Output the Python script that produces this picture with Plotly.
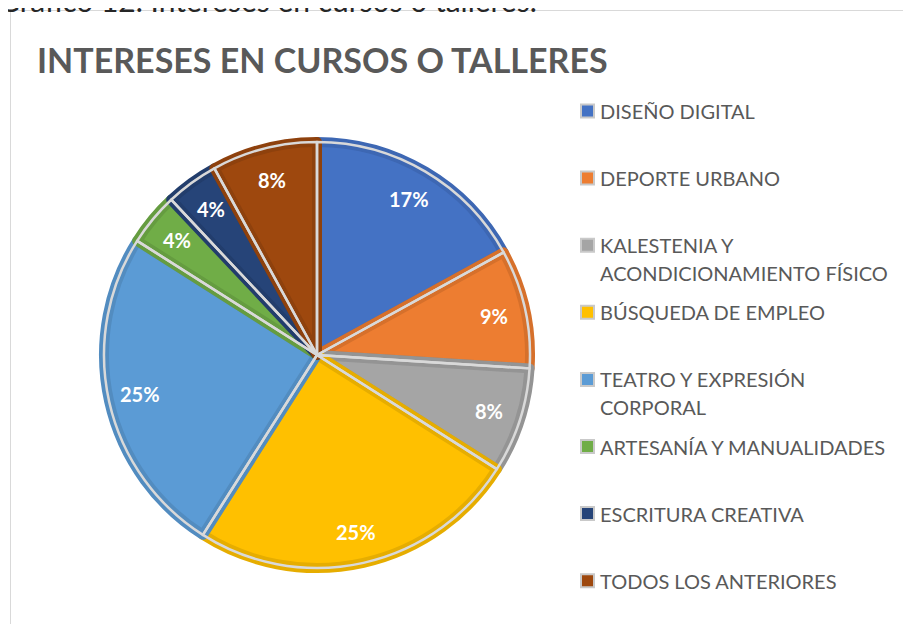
import math
import plotly.graph_objects as go

# Page has an 8px body margin; figure sized to fit the 911x624 window
OFF = 8
W, H = 911 - OFF, 624 - OFF

categories = [
    "DISEÑO DIGITAL",
    "DEPORTE URBANO",
    "KALESTENIA Y ACONDICIONAMIENTO FÍSICO",
    "BÚSQUEDA DE EMPLEO",
    "TEATRO Y EXPRESIÓN CORPORAL",
    "ARTESANÍA Y MANUALIDADES",
    "ESCRITURA CREATIVA",
    "TODOS LOS ANTERIORES",
]
legend_lines = [
    ["DISEÑO DIGITAL"],
    ["DEPORTE URBANO"],
    ["KALESTENIA Y", "ACONDICIONAMIENTO FÍSICO"],
    ["BÚSQUEDA DE EMPLEO"],
    ["TEATRO Y EXPRESIÓN", "CORPORAL"],
    ["ARTESANÍA Y MANUALIDADES"],
    ["ESCRITURA CREATIVA"],
    ["TODOS LOS ANTERIORES"],
]
values = [17, 9, 8, 25, 25, 4, 4, 8]
colors = ["#4472C4", "#ED7D31", "#A5A5A5", "#FFC000", "#5B9BD5", "#70AD47", "#264478", "#9E480E"]
edge_colors = ["#3D67B3", "#D6702B", "#949494", "#E6AD00", "#528CC0", "#659C40", "#223D6C", "#8E410D"]

title_text = "INTERESES EN CURSOS O TALLERES"
caption_text = "Gráfico 12. Intereses en cursos o talleres."


def fx(p):
    return (p - OFF) / W


def fy(p):
    return 1 - (p - OFF) / H


cx, cy, R = 317, 355, 213
dom = dict(x=[fx(cx - R), fx(cx + R)], y=[fy(cy + R), fy(cy - R)])

fig = go.Figure()
fig.add_trace(go.Pie(
    labels=categories, values=values, sort=False, direction="clockwise", rotation=0,
    domain=dom, textinfo="none", hoverinfo="skip", showlegend=False,
    marker=dict(colors=colors, line=dict(color=edge_colors, width=10)),
))
fig.add_trace(go.Pie(
    labels=categories, values=values, sort=False, direction="clockwise", rotation=0,
    domain=dom, textinfo="none", showlegend=False,
    marker=dict(colors=["rgba(0,0,0,0)"] * len(values), line=dict(color="#D9D9D9", width=2.5)),
))

annotations = []
total = sum(values)
cum = 0
for v in values:
    mid = (cum + v / 2) / total * 2 * math.pi
    cum += v
    r = 0.85 * R
    x = cx + r * math.sin(mid)
    y = cy - r * math.cos(mid)
    annotations.append(dict(
        x=fx(x), y=fy(y), xref="paper", yref="paper", showarrow=False,
        text=f"{round(v / total * 100)}%",
        font=dict(family="Lato", size=20, color="white", weight="bold"),
        xanchor="center", yanchor="middle",
    ))

shapes = [dict(type="rect", xref="paper", yref="paper",
               x0=fx(10.5), x1=fx(930), y0=fy(640), y1=fy(10.5),
               line=dict(color="#D9D9D9", width=1), fillcolor="rgba(0,0,0,0)")]

step = 67.1
line_gap = 28
for i, (lines, c) in enumerate(zip(legend_lines, colors)):
    yc = 111 + i * step
    shapes.append(dict(type="rect", xref="paper", yref="paper",
                       x0=fx(581), x1=fx(594), y0=fy(yc + 6.5), y1=fy(yc - 6.5),
                       line=dict(color="#C9C9C9", width=2), fillcolor=c))
    for j, ln in enumerate(lines):
        annotations.append(dict(
            x=fx(598), y=fy(yc + j * line_gap), xref="paper", yref="paper", showarrow=False,
            text=ln, align="left", xanchor="left", yanchor="middle",
            font=dict(family="Lato", size=20, color="#595959"),
        ))

annotations.append(dict(
    x=fx(35), y=fy(60), xref="paper", yref="paper", showarrow=False,
    text=title_text, xanchor="left", yanchor="middle",
    font=dict(family="Lato", size=34, color="#595959", weight="bold"),
))
annotations.append(dict(
    x=fx(-4), y=fy(20), xref="paper", yref="paper", showarrow=False,
    text=caption_text, xanchor="left", yanchor="bottom",
    font=dict(family="Lato", size=30, color="#262626"),
))

fig.update_layout(
    width=W, height=H, margin=dict(l=0, r=0, t=0, b=0),
    paper_bgcolor="white", plot_bgcolor="white",
    annotations=annotations, shapes=shapes,
)

fig.write_html("out.html")
